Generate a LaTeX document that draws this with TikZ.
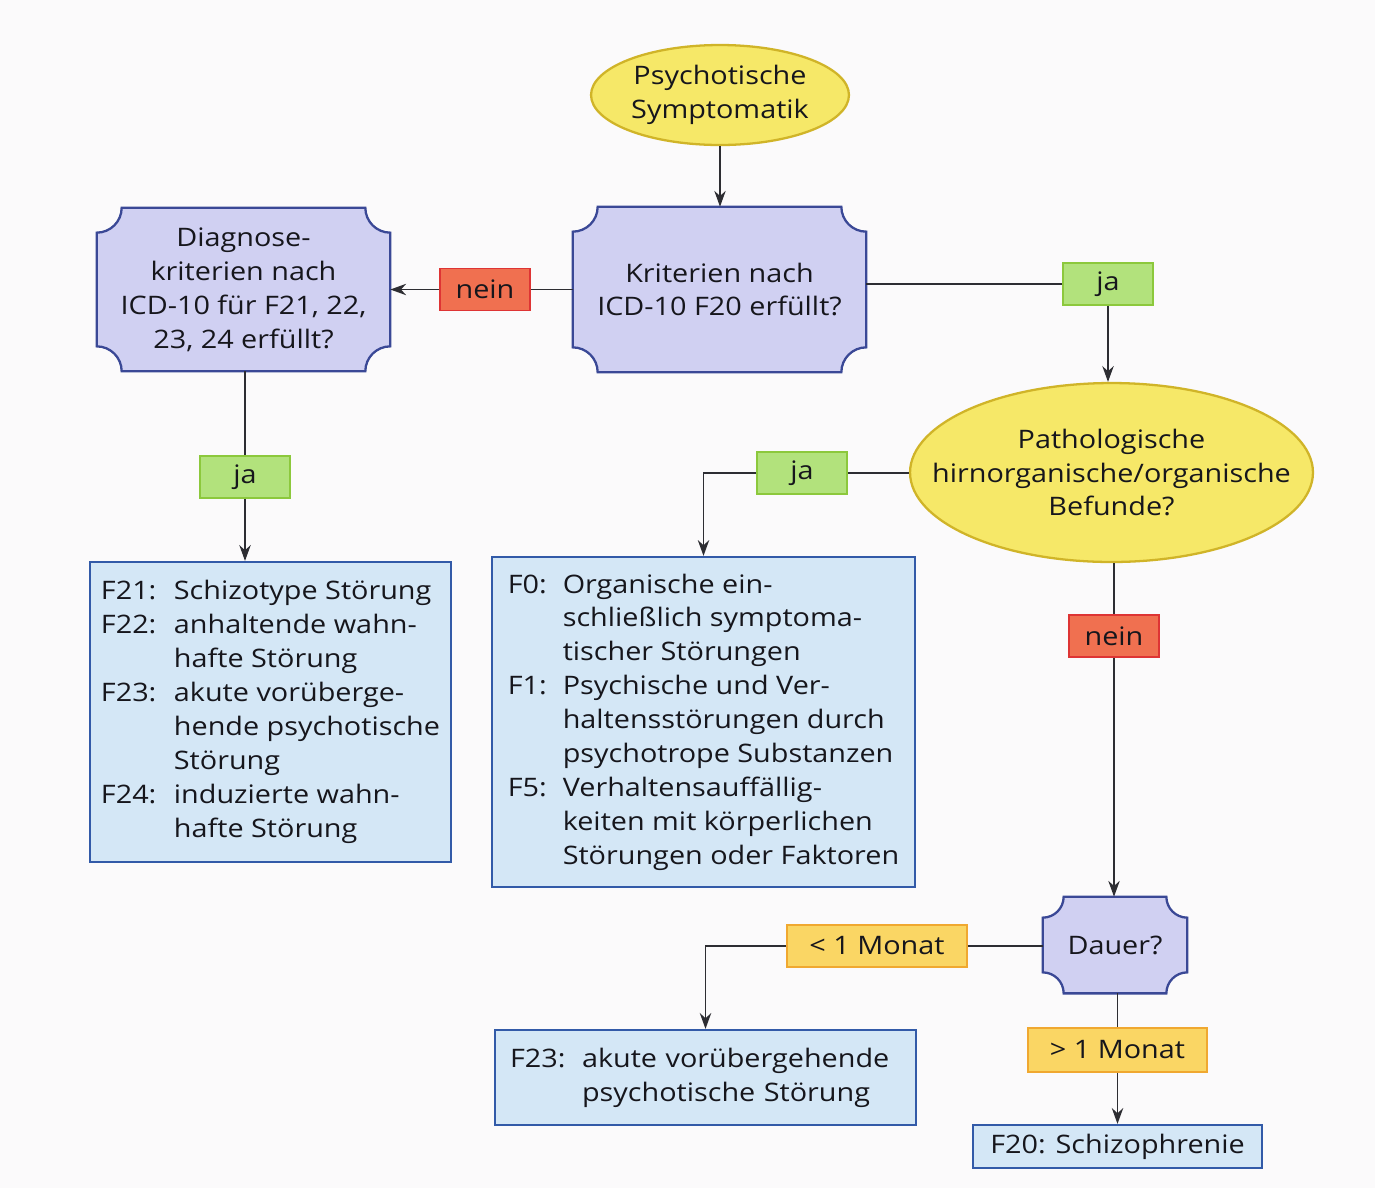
\documentclass[tikz,border=0pt]{standalone}
\usepackage{fontspec}
\setmainfont{Open Sans}[FakeStretch=1.13]
\usetikzlibrary{shapes.geometric,backgrounds,calc,arrows.meta}

\definecolor{pagebg}{RGB}{251,250,251}
\definecolor{ellfill}{RGB}{246,232,104}
\definecolor{elldraw}{RGB}{208,180,40}
\definecolor{qfill}{RGB}{208,208,242}
\definecolor{qdraw}{RGB}{58,72,150}
\definecolor{rfill}{RGB}{212,231,246}
\definecolor{rdraw}{RGB}{50,90,168}
\definecolor{jafill}{RGB}{178,226,124}
\definecolor{jadraw}{RGB}{140,200,60}
\definecolor{neinfill}{RGB}{240,112,80}
\definecolor{neindraw}{RGB}{222,52,52}
\definecolor{mofill}{RGB}{250,214,100}
\definecolor{modraw}{RGB}{240,168,48}
\definecolor{linec}{RGB}{45,45,50}
\definecolor{textc}{RGB}{22,22,28}

\newcommand\lab[2]{\makebox[#1][l]{#2}}
\newcommand\cornerbox[2]{%
  \path[fill=qfill, draw=qdraw, line width=1.3pt]
    ($(#1.north west)+(#2,0)$) -- ($(#1.north east)+(-#2,0)$)
    arc[start angle=180, end angle=270, radius=#2]
    -- ($(#1.south east)+(0,#2)$)
    arc[start angle=90, end angle=180, radius=#2]
    -- ($(#1.south west)+(#2,0)$)
    arc[start angle=0, end angle=90, radius=#2]
    -- ($(#1.north west)+(0,-#2)$)
    arc[start angle=270, end angle=360, radius=#2] -- cycle;}

\begin{document}
\begin{tikzpicture}[x=0.02cm,y=-0.02cm,
  font=\fontsize{14.5}{19.3}\selectfont,
  every node/.style={inner sep=0pt, text=textc},
  ell/.style={ellipse, fill=ellfill, draw=elldraw, line width=1.3pt, align=center},
  qbox/.style={rectangle, align=center},
  rbox/.style={rectangle, fill=rfill, draw=rdraw, line width=1.3pt, align=left},
  tag/.style={rectangle, line width=1pt, minimum height=0.84cm, align=center},
  jatag/.style={tag, fill=jafill, draw=jadraw, minimum width=1.8cm},
  neintag/.style={tag, fill=neinfill, draw=neindraw, minimum width=1.8cm},
  motag/.style={tag, fill=mofill, draw=modraw, minimum width=3.6cm},
  conn/.style={draw=linec, line width=0.75pt},
  arr/.style={conn, -{Stealth[length=9pt,width=6.5pt]}},
]
\begin{scope}[on background layer]
  \fill[pagebg] (0,0) rectangle (1375,1188);
\end{scope}
\useasboundingbox (0,0) rectangle (1375,1188);

% nodes
\node[ell, inner xsep=-0.3cm, minimum width=5.16cm, minimum height=2cm] (e1) at (720,95) {Psychotische\\Symptomatik};
\node[qbox, minimum width=5.86cm, minimum height=3.3cm] (k) at (719.5,289.5) {Kriterien nach\\ICD-10 F20 erfüllt?};
\node[qbox, minimum width=5.86cm, minimum height=3.26cm] (d) at (243.5,289.5) {Diagnose-\\kriterien nach\\ICD-10 für F21, 22,\\23, 24 erfüllt?};
\node[neintag] (nein1) at (485,289.5) {nein};
\node[jatag] (ja1) at (1108,284) {ja};
\node[ell, inner xsep=-1cm, minimum width=8.06cm, minimum height=3.58cm] (p) at (1111.5,472.5) {Pathologische\\hirnorganische/organische\\Befunde?};
\node[jatag] (ja2) at (802,473) {ja};
\node[jatag] (ja3) at (245,477) {ja};
\node[rbox, minimum width=7.22cm, minimum height=6cm] (f21) at (270.5,712) {%
\lab{1.46cm}{F21:}Schizotype Störung\\
\lab{1.46cm}{F22:}anhaltende wahn-\\
\hspace*{1.46cm}hafte Störung\\
\lab{1.46cm}{F23:}akute vorüberge-\\
\hspace*{1.46cm}hende psychotische\\
\hspace*{1.46cm}Störung\\
\lab{1.46cm}{F24:}induzierte wahn-\\
\hspace*{1.46cm}hafte Störung};
\node[rbox, minimum width=8.46cm, minimum height=6.6cm] (f0) at (703.5,722) {%
\lab{1.1cm}{F0:}Organische ein-\\
\hspace*{1.1cm}schließlich symptoma-\\
\hspace*{1.1cm}tischer Störungen\\
\lab{1.1cm}{F1:}Psychische und Ver-\\
\hspace*{1.1cm}haltensstörungen durch\\
\hspace*{1.1cm}psychotrope Substanzen\\
\lab{1.1cm}{F5:}Verhaltensauffällig-\\
\hspace*{1.1cm}keiten mit körperlichen\\
\hspace*{1.1cm}Störungen oder Faktoren};
\node[neintag] (nein2) at (1114,636) {nein};
\node[qbox, minimum width=2.88cm, minimum height=1.92cm] (dauer) at (1115,945) {Dauer?};
\node[motag] (m1) at (877,946) {< 1 Monat};
\node[rbox, inner xsep=0.3cm, text width=7.82cm, minimum height=1.9cm] (f23) at (705.5,1077.5) {%
\lab{1.44cm}{F23:}akute vorübergehende\\
\hspace*{1.44cm}psychotische Störung};
\node[motag, minimum width=3.58cm, minimum height=0.88cm] (m2) at (1117.5,1050) {> 1 Monat};
\node[rbox, align=center, minimum width=5.78cm, minimum height=0.86cm] (f20) at (1117.5,1146.5) {F20: Schizophrenie};

% concave-corner outlines
\begin{scope}[on background layer]
  \cornerbox{k}{0.5cm}
  \cornerbox{d}{0.5cm}
  \cornerbox{dauer}{0.42cm}
\end{scope}

% connectors
\draw[arr] (e1.south) -- (e1.south |- k.north);
\draw[conn] (k.west) -- (nein1.east);
\draw[arr] (nein1.west) -- (d.east);
\draw[conn] (ja1.west) -- (ja1.west -| k.east);
\draw[arr] (ja1.south) -- (ja1.south |- p.north);
\draw[conn] (ja2.east) -- (ja2.east -| p.west);
\draw[arr] (ja2.west) -| (f0.north);
\draw[conn] (ja3.north |- d.south) -- (ja3.north);
\draw[arr] (ja3.south) -- (ja3.south |- f21.north);
\draw[conn] (nein2.north |- p.south) -- (nein2.north);
\draw[arr] (nein2.south) -- (nein2.south |- dauer.north);
\draw[conn] (m1.east) -- (m1.east -| dauer.west);
\draw[arr] (m1.west) -| (f23.north);
\draw[conn] (m2.north |- dauer.south) -- (m2.north);
\draw[arr] (m2.south) -- (m2.south |- f20.north);
\end{tikzpicture}
\end{document}
